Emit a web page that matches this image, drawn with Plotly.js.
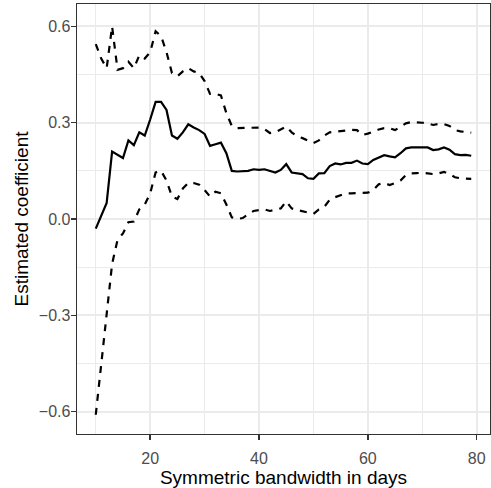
<!DOCTYPE html>
<html>
<head>
<meta charset="utf-8">
<script src="https://cdn.plot.ly/plotly-3.0.1.min.js"></script>
<style>html,body{margin:0;padding:0;background:#fff;}#chart{width:491px;height:488px;}</style>
</head>
<body>
<div id="chart"></div>
<script>
// Symmetric bandwidth in days
const bandwidth = [10,11,12,13,14,15,16,17,18,19,20,21,22,23,24,25,26,27,28,29,30,31,32,33,34,35,36,37,38,39,40,41,42,43,44,45,46,47,48,49,50,51,52,53,54,55,56,57,58,59,60,61,62,63,64,65,66,67,68,69,70,71,72,73,74,75,76,77,78,79];
// Point estimate
const estimate = [-0.03,0.01,0.05,0.21,0.20,0.19,0.245,0.23,0.27,0.26,0.31,0.365,0.365,0.34,0.26,0.25,0.27,0.295,0.285,0.277,0.265,0.228,0.233,0.238,0.205,0.15,0.148,0.148,0.150,0.155,0.153,0.155,0.150,0.145,0.153,0.171,0.145,0.143,0.140,0.127,0.125,0.142,0.143,0.165,0.173,0.170,0.175,0.175,0.182,0.173,0.171,0.184,0.192,0.199,0.195,0.192,0.205,0.220,0.223,0.223,0.223,0.223,0.215,0.217,0.223,0.216,0.202,0.199,0.200,0.197];
// Upper confidence bound
const upper = [0.545,0.50,0.47,0.60,0.465,0.47,0.49,0.47,0.51,0.50,0.52,0.585,0.57,0.52,0.455,0.445,0.46,0.47,0.46,0.455,0.43,0.39,0.39,0.385,0.33,0.29,0.283,0.283,0.283,0.283,0.285,0.28,0.268,0.27,0.278,0.288,0.27,0.258,0.252,0.245,0.237,0.245,0.26,0.27,0.272,0.272,0.275,0.278,0.277,0.262,0.266,0.273,0.279,0.283,0.283,0.277,0.288,0.298,0.302,0.302,0.300,0.298,0.293,0.296,0.296,0.29,0.277,0.273,0.271,0.269];
// Lower confidence bound
const lower = [-0.61,-0.46,-0.30,-0.14,-0.065,-0.045,-0.01,-0.008,0.03,0.045,0.08,0.145,0.15,0.12,0.07,0.062,0.095,0.113,0.112,0.107,0.09,0.07,0.085,0.08,0.045,0.005,0.0,0.003,0.015,0.025,0.028,0.03,0.025,0.03,0.033,0.055,0.033,0.028,0.025,0.02,0.016,0.03,0.038,0.06,0.068,0.075,0.08,0.08,0.08,0.081,0.082,0.09,0.108,0.112,0.106,0.112,0.12,0.137,0.142,0.143,0.144,0.142,0.14,0.142,0.147,0.14,0.13,0.127,0.126,0.125];

const xTicks = [20,40,60,80];
const yTicks = [-0.6,-0.3,0.0,0.3,0.6];
const yTickText = ["\u22120.6","\u22120.3","0.0","0.3","0.6"];

const FONT = "Liberation Sans, Arial, Helvetica, sans-serif";
const lineW = 2.2;

const traces = [
  {x: bandwidth, y: upper, mode: "lines", line: {color: "#000", width: lineW, dash: "7px,7px"}, hoverinfo: "skip"},
  {x: bandwidth, y: lower, mode: "lines", line: {color: "#000", width: lineW, dash: "7px,7px"}, hoverinfo: "skip"},
  {x: bandwidth, y: estimate, mode: "lines", line: {color: "#000", width: lineW}, hoverinfo: "skip"}
];

const layout = {
  width: 491, height: 488,
  margin: {l: 77, r: 1, t: 4, b: 54},
  paper_bgcolor: "#fff", plot_bgcolor: "#fff",
  showlegend: false,
  font: {family: FONT, color: "#4D4D4D", size: 16},
  xaxis: {
    range: [6.55, 82.45],
    tickmode: "array", tickvals: xTicks, ticktext: xTicks.map(String),
    ticks: "outside", ticklen: 5, tickwidth: 1.4, tickcolor: "#333333",
    ticklabelstandoff: 4,
    showgrid: true, gridcolor: "#EBEBEB", gridwidth: 2,
    minor: {dtick: 10, tick0: 0, showgrid: true, gridcolor: "#EBEBEB", gridwidth: 1, ticks: ""},
    showline: true, mirror: true, linecolor: "#333333", linewidth: 1.4,
    zeroline: false,
    automargin: true,
    tickfont: {family: FONT, size: 16, color: "#4D4D4D"},
    title: {text: "Symmetric bandwidth in days", font: {family: FONT, size: 19, color: "#000"}, standoff: 4}
  },
  yaxis: {
    range: [-0.67, 0.67],
    tickmode: "array", tickvals: yTicks, ticktext: yTickText,
    ticks: "outside", ticklen: 5, tickwidth: 1.4, tickcolor: "#333333",
    ticklabelstandoff: -3,
    showgrid: true, gridcolor: "#EBEBEB", gridwidth: 2,
    minor: {dtick: 0.15, tick0: 0, showgrid: true, gridcolor: "#EBEBEB", gridwidth: 1, ticks: ""},
    showline: true, mirror: true, linecolor: "#333333", linewidth: 1.4,
    zeroline: false,
    tickfont: {family: FONT, size: 16, color: "#4D4D4D"},
    title: {text: "Estimated coefficient", font: {family: FONT, size: 19, color: "#000"}, standoff: 5}
  }
};

Plotly.newPlot("chart", traces, layout, {staticPlot: true, displayModeBar: false});
</script>
</body>
</html>
